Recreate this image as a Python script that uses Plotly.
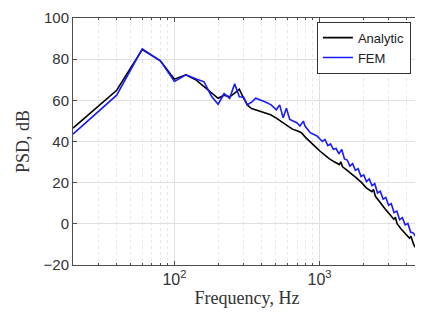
import plotly.graph_objects as go

# ---- data ----
freq_analytic = [20, 40, 60, 80, 100, 120, 140, 160, 180, 200, 220, 240, 260, 280, 300,
                 320, 340, 360, 400, 460, 500, 550, 600, 650, 700, 750, 800, 885, 950,
                 1000, 1080, 1164, 1270, 1370, 1400, 1440, 1550, 1650, 1800, 1950, 2100,
                 2295, 2355, 2420, 2600, 2832, 3050, 3250, 3330, 3420, 3650, 3900, 4170,
                 4260, 4458, 4650, 4750, 4850, 5000]
psd_analytic = [46.5, 64.9, 84.7, 79.2, 70.3, 72.4, 70.0, 66.5, 63.5, 61.0, 62.5, 61.7, 63.5,
                65.4, 61.0, 57.5, 56.0, 55.4, 54.3, 53.0, 51.5, 49.5, 47.5, 46.0, 45.2, 44.3,
                42.0, 38.8, 37.0, 35.5, 33.5, 31.7, 30.0, 28.8, 30.1, 27.7, 26.0, 24.5, 22.2,
                20.0, 17.5, 15.6, 16.7, 13.5, 10.5, 7.2, 4.5, 2.2, 3.2, 0.1, -2.5, -4.7, -7.0,
                -6.0, -10.2, -12.0, -10.5, -12.5, -19.5]

freq_fem = [20, 40, 60, 80, 100, 120, 140, 160, 180, 200, 220, 240, 260, 280, 300, 317,
            344, 363, 416, 464, 503, 531, 561, 591, 623, 697, 733, 773, 794, 862, 960,
            1000, 1045, 1090, 1140, 1190, 1245, 1300, 1360, 1420, 1485, 1550, 1620, 1690,
            1765, 1845, 1930, 2015, 2105, 2200, 2300, 2400, 2510, 2620, 2740, 2860, 2990,
            3120, 3260, 3410, 3560, 3720, 3890, 4060, 4240, 4430, 4630, 4760, 4850, 4920,
            5000]
psd_fem = [43.6, 62.5, 85.0, 79.2, 69.2, 72.4, 70.5, 69.0, 62.0, 58.1, 63.3, 61.0, 68.0,
           61.7, 61.5, 57.8, 59.4, 61.0, 59.4, 57.8, 55.4, 57.8, 51.5, 56.2, 50.7, 49.1,
           47.5, 49.9, 47.5, 44.3, 42.7, 41.5, 40.0, 41.0, 38.0, 38.8, 36.2, 36.6, 34.0,
           36.2, 31.5, 31.0, 28.0, 29.2, 26.0, 26.8, 23.0, 23.8, 20.5, 21.8, 18.5, 19.5,
           15.0, 15.8, 12.0, 12.8, 9.0, 9.8, 5.5, 6.2, 2.0, 3.0, -0.5, 0.2, -4.0, -4.5,
           -6.5, -3.0, -0.5, -1.0, -14.0]

y_ticks = [-20, 0, 20, 40, 60, 80, 100]
x_ticks = [100, 1000]
x_ticktext = ["10<sup>2</sup>", "10<sup>3</sup>"]
x_minor_ticks = [20, 30, 40, 50, 60, 70, 80, 90,
                 200, 300, 400, 500, 600, 700, 800, 900,
                 2000, 3000, 4000, 5000]

fig = go.Figure()
fig.add_trace(go.Scatter(x=freq_analytic, y=psd_analytic, mode="lines", name="Analytic",
                         line=dict(color="black", width=1.6)))
fig.add_trace(go.Scatter(x=freq_fem, y=psd_fem, mode="lines", name="FEM",
                         line=dict(color="#1a1aff", width=1.6)))

axis_line = "#4d4d4d"
fig.update_xaxes(type="log", range=[1.30103, 3.69897], automargin=False,
                 tickmode="array", tickvals=x_ticks, ticktext=x_ticktext,
                 showline=True, linecolor=axis_line, linewidth=1, mirror="ticks",
                 ticks="inside", ticklen=4, tickcolor=axis_line,
                 showgrid=True, gridcolor="#e0e0e0", gridwidth=1,
                 minor=dict(tickmode="array", tickvals=x_minor_ticks,
                            showgrid=True, gridcolor="#e8e8e8", griddash="dot",
                            ticks="inside", ticklen=2, tickcolor=axis_line),
                 tickfont=dict(family="Liberation Sans, Arial", size=16, color="#333333"),
                 title=dict(text="Frequency, Hz", standoff=4,
                            font=dict(family="Liberation Serif, Times New Roman", size=18,
                                      color="#333333")),
                 zeroline=False)
fig.update_yaxes(range=[-20, 100], automargin=False, tickmode="array", tickvals=y_ticks,
                 ticklabeloverflow="allow",
                 showline=True, linecolor=axis_line, linewidth=1, mirror="ticks",
                 ticks="inside", ticklen=4, tickcolor=axis_line,
                 showgrid=True, gridcolor="#e0e0e0", gridwidth=1,
                 tickfont=dict(family="Liberation Sans, Arial", size=15, color="#333333"),
                 title=dict(text="PSD, dB", standoff=9,
                            font=dict(family="Liberation Serif, Times New Roman", size=18,
                                      color="#333333")),
                 zeroline=False)

fig.update_layout(
    width=423, height=317,
    margin=dict(l=65, r=10, t=10, b=60),
    paper_bgcolor="white", plot_bgcolor="white",
    showlegend=True,
    legend=dict(x=0.971, y=0.985, xanchor="right", yanchor="top",
                bgcolor="white", bordercolor="#333333", borderwidth=1,
                font=dict(family="Liberation Sans, Arial", size=13, color="#222222"),
                tracegroupgap=0, itemwidth=30),
)

fig.write_html("out.html")
